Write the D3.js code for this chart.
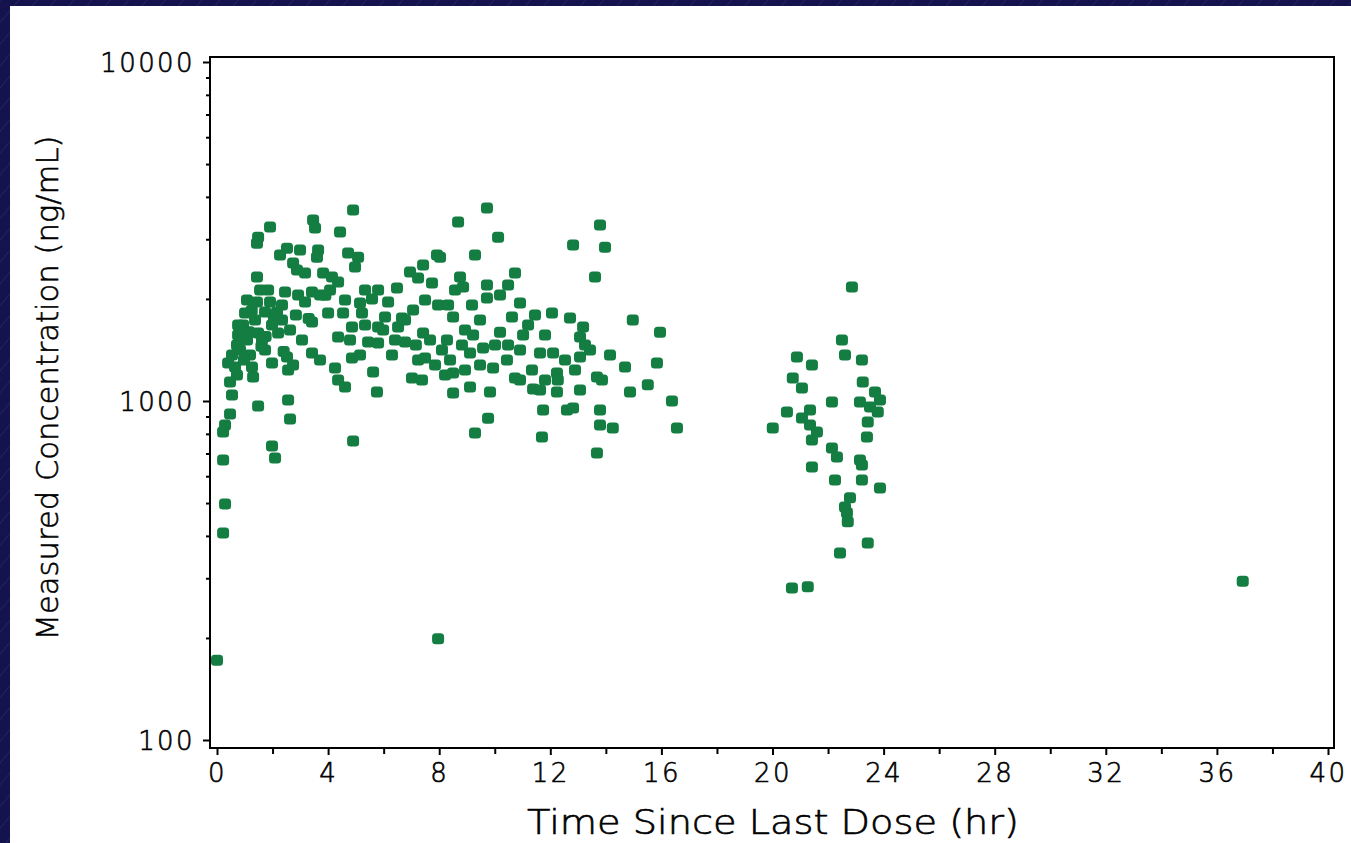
<!DOCTYPE html>
<html>
<head>
<meta charset="utf-8">
<script src="https://cdn.jsdelivr.net/npm/d3@7"></script>
<style>
  html, body { margin: 0; padding: 0; background: #15134d; overflow: hidden; }
  svg { display: block; }
  text { font-family: "DejaVu Sans", sans-serif; fill: #000; font-weight: 300; stroke: #000; stroke-width: 0.6px; }
</style>
</head>
<body>
<svg id="chart" width="1351" height="843"></svg>
<script>
// ---- Data ----
const xTickValues = [0, 4, 8, 12, 16, 20, 24, 28, 32, 36, 40];
const yTickValues = [100, 1000, 10000];
const xTitle = "Time Since Last Dose (hr)";
const yTitle = "Measured Concentration (ng/mL)";

const timeHr = [
  0.47,0.29,0.22,0.22,0.29,0.22,0.00,1.48,2.56,2.63,1.98,2.09,7.96,36.93,4.90,9.76,9.29,
  0.47,0.65,0.40,1.30,1.26,0.83,0.72,1.98,2.52,2.74,2.56,3.06,3.42,3.71,4.25,4.36,4.61,4.36,
  4.86,5.15,5.62,5.76,5.44,5.80,6.41,6.77,7.24,7.49,7.85,7.02,7.38,7.42,0.76,1.48,2.20,
  4.90,3.46,3.53,4.43,1.91,1.48,1.44,2.52,3.64,3.60,4.72,5.08,4.97,7.92,7.42,1.44,2.74,2.88,
  3.17,3.82,4.14,4.36,6.95,7.24,7.74,1.84,2.45,2.92,3.42,3.71,3.17,5.33,5.80,6.48,5.58,6.16,
  1.44,1.91,1.73,2.16,1.01,7.49,7.96,5.15,4.00,4.54,5.22,6.05,6.66,7.06,0.76,1.98,3.42,4.86,
  5.80,6.52,
  9.72,8.68,10.12,9.29,13.79,12.82,13.97,13.61,8.03,8.75,8.86,9.72,10.73,10.48,10.19,9.72,
  8.32,9.18,10.91,11.45,12.06,12.71,14.97,8.50,9.47,10.62,13.18,15.95,
  8.28,9.22,10.19,11.02,13.07,9.11,9.58,11.63,12.10,13.07,13.43,14.69,15.84,8.50,8.50,9.11,
  9.47,9.94,10.44,10.73,9.83,11.34,11.38,11.63,12.24,12.27,12.24,13.07,13.68,13.86,14.87,
  15.51,16.38,16.56,11.74,12.60,12.82,13.79,13.79,14.25,11.70,13.68,
  22.86,22.50,22.61,20.88,21.42,23.22,20.73,21.06,23.25,22.14,23.69,23.87,23.15,23.51,23.79,
  20.52,21.35,21.06,21.35,21.60,21.42,20.01,23.43,23.40,22.14,22.32,21.42,23.15,23.22,22.25,
  23.22,23.87,22.79,22.61,22.68,22.71,23.43,22.43,20.70,21.27,
  0.94,1.08,1.19,1.62,1.73,0.54,0.97,1.37,1.55,1.08,2.34,2.63,2.84,2.34,4.61,4.79,5.33,5.98,
  6.30,6.77,7.16,7.67,8.10,8.39,8.82,8.93,10.01,10.48,10.91,11.20,11.81,12.53,12.89,13.25,
  14.15,0.54,0.72,2.99,2.27,4.07,8.57,8.93,8.21,10.91,11.81,
  1.15,1.60,2.05,2.40,3.30,3.90,0.90,1.25,1.75
];
const concNgMl = [
  915,850,810,670,497,408,172,967,1007,885,737,679,199,294,762,890,805,
  1138,1259,1294,1177,1259,1413,1462,1294,1348,1277,1234,1513,1386,1321,1251,1153,1100,1545,
  1339,1367,1218,1063,1493,1483,1513,1493,1321,1339,1277,1169,1153,1587,1566,1587,1587,
  3657,3418,3237,3149,3261,3040,2918,2823,2787,2656,2731,2656,2483,2694,2518,2323,2552,2433,
  2386,2386,2323,2245,2402,2307,2229,2124,2096,2054,2096,2054,1960,2124,2124,2153,1999,1960,
  1960,1960,1830,1830,1818,1986,1921,1947,1818,1818,1818,1769,1757,1855,1676,1676,1711,1653,
  1653,1653,
  3710,3372,3040,2694,3306,2884,2842,2323,2656,2323,2168,2198,2386,2198,2054,2013,
  1921,1921,1947,1793,1818,1757,1734,1769,1734,1769,1653,1596,
  1513,1566,1596,1566,1545,1386,1433,1386,1386,1348,1413,1259,1294,1209,1055,1100,
  1277,1251,1321,1169,1063,1234,1085,1077,1209,1153,1063,1077,1177,1153,1063,
  1116,1000,832,940,940,953,940,850,832,783,702,
  2169,1513,1367,1348,1277,1321,1169,1092,1138,993,1063,1007,993,960,928,
  928,940,891,850,810,767,832,867,783,727,684,639,670,648,585,
  585,554,518,487,468,440,381,356,281,283,
  1676,1513,1367,1513,1413,1367,1321,1734,2124,1986,1734,1619,1793,1921,1986,1513,1676,1619,
  1367,1734,1462,1513,1413,1321,1462,1619,1462,1462,1413,1676,1566,1321,1234,1462,
  1367,1041,1194,2787,2694,2124,2124,1234,1194,1153,1153,
  1600,1450,1750,1400,1750,2050,1600,1850,1550
];

// ---- Drawing ----
const W = 1351, H = 843;
const svg = d3.select("#chart");
const defs = svg.append("defs");
const pat = defs.append("pattern")
  .attr("id", "hatch").attr("patternUnits", "userSpaceOnUse")
  .attr("width", 14).attr("height", 14)
  .attr("patternTransform", "rotate(40)");
pat.append("rect").attr("width", 14).attr("height", 14).attr("fill", "#15134d");
pat.append("line").attr("x1", 0).attr("y1", 0).attr("x2", 0).attr("y2", 14)
  .attr("stroke", "#2e3075").attr("stroke-width", 1);

svg.append("rect").attr("width", W).attr("height", H).attr("fill", "url(#hatch)");
svg.append("rect").attr("x", 10).attr("y", 6).attr("width", W - 10).attr("height", H - 6)
  .attr("fill", "#ffffff");

const x = d3.scaleLinear().domain([0, 40]).range([217, 1328]);
const y = d3.scaleLog().domain([100, 10000]).range([740, 62]);

const frameL = x(0) - 7, frameR = x(40) + 6, frameT = y(10000) - 5, frameB = y(100) + 8;

// points
const pts = timeHr.map((t, i) => ({ t, c: concNgMl[i] }));
svg.append("g").selectAll("rect").data(pts).join("rect")
  .attr("x", d => x(d.t) - 6).attr("y", d => y(d.c) - 5.5)
  .attr("width", 12).attr("height", 11).attr("rx", 3.5)
  .attr("fill", "#147d41");

// frame
svg.append("rect").attr("x", frameL).attr("y", frameT)
  .attr("width", frameR - frameL).attr("height", frameB - frameT)
  .attr("fill", "none").attr("stroke", "#000").attr("stroke-width", 2);

// y axis
const yMinor = [];
[100, 1000].forEach(b => { for (let k = 2; k <= 9; k++) yMinor.push(b * k); });
const yAx = svg.append("g").attr("transform", `translate(${frameL},0)`);
yAx.append("g").call(d3.axisLeft(y).tickValues(yMinor).tickSize(4).tickFormat(""))
  .call(g => g.select(".domain").remove())
  .call(g => g.selectAll("line").attr("stroke", "#000").attr("stroke-width", 2));
yAx.append("g").call(d3.axisLeft(y).tickValues(yTickValues).tickSize(7).tickPadding(8)
    .tickFormat(d3.format("d")))
  .call(g => g.select(".domain").remove())
  .call(g => g.selectAll("line").attr("stroke", "#000").attr("stroke-width", 2))
  .call(g => g.selectAll("text").attr("font-size", 26).attr("letter-spacing", 2.4)
    .attr("font-family", "DejaVu Sans").attr("font-weight", 300).attr("fill", "#000")
    .attr("stroke", "#000").attr("stroke-width", 0.6).attr("dy", "0.36em"));

// x axis
const xMinor = d3.range(2, 40, 4);
const xAx = svg.append("g").attr("transform", `translate(0,${frameB})`);
xAx.append("g").call(d3.axisBottom(x).tickValues(xMinor).tickSize(6).tickFormat(""))
  .call(g => g.select(".domain").remove())
  .call(g => g.selectAll("line").attr("stroke", "#000").attr("stroke-width", 2));
xAx.append("g").call(d3.axisBottom(x).tickValues(xTickValues).tickSize(7).tickPadding(9)
    .tickFormat(d3.format("d")))
  .call(g => g.select(".domain").remove())
  .call(g => g.selectAll("line").attr("stroke", "#000").attr("stroke-width", 2))
  .call(g => g.selectAll("text").attr("font-size", 26).attr("letter-spacing", 2.4)
    .attr("font-family", "DejaVu Sans").attr("font-weight", 300).attr("fill", "#000")
    .attr("stroke", "#000").attr("stroke-width", 0.6));

// titles
svg.append("text").attr("x", 773).attr("y", 834).attr("text-anchor", "middle")
  .attr("font-size", 33).attr("textLength", 492).attr("lengthAdjust", "spacingAndGlyphs")
  .text(xTitle);
svg.append("text").attr("transform", `translate(58,388) rotate(-90)`)
  .attr("text-anchor", "middle").attr("font-size", 31)
  .attr("textLength", 505).attr("lengthAdjust", "spacingAndGlyphs")
  .text(yTitle);
</script>
</body>
</html>
